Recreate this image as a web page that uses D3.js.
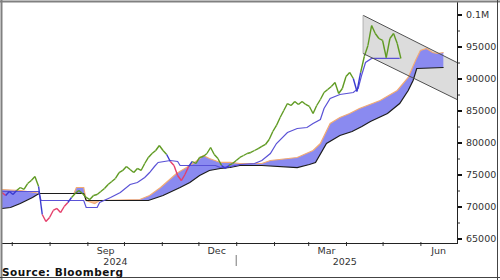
<!DOCTYPE html>
<html>
<head>
<meta charset="utf-8">
<title>Ichimoku chart</title>
<script src="https://cdn.jsdelivr.net/npm/d3@7"></script>
<style>
  body { margin: 0; background: #fff; }
  svg { display: block; }
  text { font-family: "DejaVu Sans", Verdana, sans-serif; }
</style>
</head>
<body>
<script>
// closing prices, one every 3 days from priceStart
var priceStart = "2024-06-23";
var priceStepDays = 3;
var priceClose = [
  72190, 71720, 72340, 71880, 72500, 72970, 72660, 73590, 74060, 74690,
  73130, 68750, 67660, 68280, 69380, 69690, 69060, 70000, 70630, 71410,
  72030, 72500, 72030, 71410, 71090, 71720, 71880, 72340, 72810, 73440,
  73910, 74380, 75310, 75630, 76250, 75780, 75310, 75940, 75630, 76720,
  77660, 78280, 78750, 79530, 78750, 78130, 77030, 76410, 74840, 74060,
  75000, 76250, 77030, 76720, 77660, 77810, 78280, 79220, 78130, 77500,
  76410, 75940, 76410, 76720, 77190, 77660, 77970, 78280, 78440, 78750,
  79060, 79380, 79690, 80470, 81720, 82660, 83910, 85000, 86090, 85780,
  86410, 85940, 86410, 85940, 85630, 84530, 85780, 86720, 87810, 88280,
  88750, 89380, 87660, 88440, 90310, 90940, 90000, 87970, 90940, 93440,
  95160, 98280, 97030, 96250, 95940, 93280, 96250, 97030, 95470, 93130
];

// conversion line
var baseDates = ["2024-06-23","2024-07-23","2024-07-25","2024-08-29","2024-08-31","2024-09-09","2024-09-11","2024-09-20",
  "2024-09-28","2024-10-06","2024-10-12","2024-10-18","2024-10-22","2024-10-26","2024-10-29","2024-11-08","2024-11-14",
  "2024-11-16","2024-12-15","2024-12-19","2024-12-27","2025-01-04","2025-01-16","2025-01-22","2025-01-29","2025-02-03",
  "2025-02-12","2025-02-20","2025-02-28","2025-03-05","2025-03-11","2025-03-14","2025-03-19","2025-03-27","2025-04-07",
  "2025-04-11","2025-04-14","2025-04-17","2025-04-22","2025-05-15"];
var baseValues = [72340, 72340, 70940, 70940, 69840, 69840, 70630, 71410,
  72190, 73440, 73750, 74530, 75310, 76250, 76880, 77190, 77030,
  76410, 76410, 76090, 76250, 76560, 76720, 77190, 78280, 79840,
  81560, 82190, 82340, 82970, 83590, 85310, 86880, 87500, 87810,
  88440, 90630, 92500, 93130, 93130];

// leading span A (orange edge)
var spanADates = ["2024-06-23","2024-07-08","2024-07-20","2024-07-24","2024-08-21","2024-08-23","2024-08-29","2024-08-31",
  "2024-09-07","2024-09-11","2024-10-14","2024-10-18","2024-10-22","2024-10-31","2024-11-13","2024-11-24","2024-11-30",
  "2024-12-05","2024-12-10","2024-12-19","2024-12-27","2025-01-04","2025-01-22","2025-01-29","2025-02-20","2025-03-05",
  "2025-03-11","2025-03-19","2025-03-27","2025-04-04","2025-04-12","2025-04-29","2025-05-13","2025-05-22","2025-05-28",
  "2025-06-01","2025-06-06","2025-06-11","2025-06-15","2025-06-20"];
var spanAValues = [72660, 72500, 72190, 72030, 72030, 72970, 72970, 70940,
  70470, 70940, 71090, 71410, 71720, 72970, 75160, 76410, 77190,
  77970, 77500, 76880, 76880, 76720, 76720, 77190, 77660, 78750,
  79840, 82970, 83910, 84530, 85310, 86560, 88130, 90160, 92810,
  94380, 94690, 94060, 93910, 94060];

// leading span B (black edge)
var spanBDates = ["2024-06-23","2024-06-30","2024-07-08","2024-07-13","2024-07-18","2024-07-22","2024-07-24","2024-08-29",
  "2024-08-31","2024-10-21","2024-11-02","2024-11-16","2024-11-24","2024-12-02","2024-12-10","2024-12-19","2024-12-27",
  "2025-01-04","2025-01-22","2025-02-20","2025-03-02","2025-03-07","2025-03-16","2025-03-27","2025-04-06","2025-04-14",
  "2025-04-21","2025-05-05","2025-05-15","2025-05-22","2025-05-26","2025-05-29","2025-06-20"];
var spanBValues = [69690, 69840, 70470, 70940, 71410, 71880, 72030, 72030,
  70940, 70940, 71720, 72970, 73750, 74840, 75630, 75940, 76090,
  76410, 76410, 76090, 76560, 76880, 79840, 81090, 81720, 82500,
  83280, 84530, 86090, 88130, 89690, 91560, 91720];

// falling channel
var channelDates = ["2025-04-15", "2025-07-01"];
var channelUpper = [99880, 92500];
var channelLower = [93910, 86720];

var yMajorTicks = [65000, 70000, 75000, 80000, 85000, 90000, 95000, 100000];
var yTickLabels = ["65000", "70000", "75000", "80000", "85000", "90000", "95000", "0.1M"];
var yMinorTicks = [67500, 72500, 77500, 82500, 87500, 92500, 97500];
var monthLabels = ["Sep", "Dec", "Mar", "Jun"];
var monthLabelDates = ["2024-09-16", "2024-12-16", "2025-03-16", "2025-06-16"];
var yearLabels = ["2024", "2025"];
var yearLabelDates = ["2024-09-24", "2025-03-31"];
var yearBreak = "2025-01-01";

var parse = d3.timeParse("%Y-%m-%d");
var width = 500, height = 280;
var plot = { left: 2, top: 2, right: 457, bottom: 243 };

var svg = d3.select("body").append("svg")
  .attr("width", width)
  .attr("height", height);

var x = d3.scaleTime()
  .domain([parse("2024-06-23"), parse("2025-07-01")])
  .range([plot.left, plot.right]);
var y = d3.scaleLinear()
  .domain([65000, 100000])
  .range([238.5, 14.5]);

function series(dates, values) {
  return dates.map(function(d, i) { return { date: parse(d), v: values[i] }; });
}

var price = priceClose.map(function(v, i) {
  return { date: d3.timeDay.offset(parse(priceStart), priceStepDays * i), v: v };
});
var base = series(baseDates, baseValues);
var spanA = series(spanADates, spanAValues);
var spanB = series(spanBDates, spanBValues);
var channel = channelDates.map(function(d, i) {
  return { date: parse(d), hi: channelUpper[i], lo: channelLower[i] };
});

var defs = svg.append("defs");
defs.append("clipPath").attr("id", "plotClip").append("rect")
  .attr("x", plot.left).attr("y", plot.top)
  .attr("width", plot.right - plot.left).attr("height", plot.bottom - plot.top);

var belowArea = d3.area().x(function(d) { return x(d.date); })
  .y0(plot.bottom).y1(function(d) { return y(d.v); });
var aboveArea = d3.area().x(function(d) { return x(d.date); })
  .y0(plot.top).y1(function(d) { return y(d.v); });
var line = d3.line().x(function(d) { return x(d.date); }).y(function(d) { return y(d.v); });

defs.append("clipPath").attr("id", "belowA").append("path").attr("d", belowArea(spanA));
defs.append("clipPath").attr("id", "belowB").append("path").attr("d", belowArea(spanB));

var chart = svg.append("g").attr("clip-path", "url(#plotClip)");

// channel fill
chart.append("path")
  .datum(channel)
  .attr("d", d3.area()
    .x(function(d) { return x(d.date); })
    .y0(function(d) { return y(d.lo); })
    .y1(function(d) { return y(d.hi); }))
  .attr("fill", "#dcdcdc");

// cloud: blue where A is above B, orange where twisted
chart.append("path").attr("d", aboveArea(spanB))
  .attr("fill", "#8a8af0").attr("clip-path", "url(#belowA)");
chart.append("path").attr("d", aboveArea(spanA))
  .attr("fill", "#f6c49a").attr("clip-path", "url(#belowB)");

chart.append("path").datum(spanA).attr("d", line)
  .attr("fill", "none").attr("stroke", "#f2ab74").attr("stroke-width", 1.2);
chart.append("path").datum(spanB).attr("d", line)
  .attr("fill", "none").attr("stroke", "#1c1c1c").attr("stroke-width", 1.2);

// conversion line
chart.append("path").datum(base).attr("d", line)
  .attr("fill", "none").attr("stroke", "#5a52d6").attr("stroke-width", 1.2);

// price, coloured against the conversion line
var bisect = d3.bisector(function(d) { return d.date; }).left;
function baseAt(date) {
  var i = bisect(base, date);
  if (i <= 0) return base[0].v;
  if (i >= base.length) return base[base.length - 1].v;
  var a = base[i - 1], b = base[i];
  return a.v + (date - a.date) / (b.date - a.date) * (b.v - a.v);
}
var segs = d3.pairs(price).map(function(p) {
  var up0 = p[0].v >= baseAt(p[0].date), up1 = p[1].v >= baseAt(p[1].date);
  return { a: p[0], b: p[1], color: up0 && up1 ? "#5f9a22" : (!up0 && !up1 ? "#e53f6b" : "#3a3ad0") };
});
chart.selectAll(".seg")
  .data(segs)
  .enter()
  .append("line")
  .attr("class", "seg")
  .attr("x1", function(d) { return x(d.a.date); })
  .attr("y1", function(d) { return y(d.a.v); })
  .attr("x2", function(d) { return x(d.b.date); })
  .attr("y2", function(d) { return y(d.b.v); })
  .attr("stroke", function(d) { return d.color; })
  .attr("stroke-width", 1.4);

// channel borders
["hi", "lo"].forEach(function(k) {
  chart.append("path")
    .datum(channel)
    .attr("d", d3.line().x(function(d) { return x(d.date); }).y(function(d) { return y(d[k]); }))
    .attr("fill", "none").attr("stroke", "#505050").attr("stroke-width", 1);
});
chart.append("line")
  .attr("x1", x(channel[0].date)).attr("x2", x(channel[0].date))
  .attr("y1", y(channel[0].hi)).attr("y2", y(channel[0].lo))
  .attr("stroke", "#b0b0b0");

// y axis on the right
var yAxis = svg.append("g")
  .attr("transform", "translate(" + plot.right + ",0)")
  .call(d3.axisRight(y).tickValues(yMajorTicks)
    .tickFormat(function(d, i) { return yTickLabels[i]; })
    .tickSize(5).tickPadding(4).tickSizeOuter(0));
yAxis.select(".domain").remove();
yAxis.selectAll(".tick line").attr("stroke", "#111").attr("stroke-width", 2);
yAxis.selectAll(".tick text")
  .attr("fill", "#333")
  .style("font-size", "9.5px")
  .style("font-family", "DejaVu Sans, sans-serif");

var yMinor = svg.append("g")
  .attr("transform", "translate(" + plot.right + ",0)")
  .call(d3.axisRight(y).tickValues(yMinorTicks).tickFormat("").tickSize(3).tickSizeOuter(0));
yMinor.select(".domain").remove();
yMinor.selectAll(".tick line").attr("stroke", "#333");

// x axis
var xAxis = svg.append("g")
  .attr("transform", "translate(0," + plot.bottom + ")")
  .call(d3.axisBottom(x)
    .tickValues(d3.timeMonth.range(parse("2024-07-01"), parse("2025-07-01")))
    .tickFormat("").tickSize(3).tickSizeOuter(0));
xAxis.select(".domain").remove();
xAxis.selectAll(".tick line").attr("stroke", "#333").attr("y1", -1);

svg.selectAll(".month")
  .data(monthLabels)
  .enter()
  .append("text")
  .attr("class", "month")
  .attr("x", function(d, i) { return x(parse(monthLabelDates[i])); })
  .attr("y", 254)
  .attr("text-anchor", "middle")
  .attr("fill", "#333")
  .style("font-size", "9.5px")
  .text(function(d) { return d; });

svg.selectAll(".year")
  .data(yearLabels)
  .enter()
  .append("text")
  .attr("class", "year")
  .attr("x", function(d, i) { return x(parse(yearLabelDates[i])); })
  .attr("y", 265)
  .attr("text-anchor", "middle")
  .attr("fill", "#333")
  .style("font-size", "9.5px")
  .text(function(d) { return d; });

svg.append("line")
  .attr("x1", x(parse(yearBreak))).attr("x2", x(parse(yearBreak)))
  .attr("y1", 255).attr("y2", 266)
  .attr("stroke", "#777");

// plot borders
svg.append("line").attr("x1", plot.left).attr("x2", plot.right)
  .attr("y1", plot.bottom + 0.5).attr("y2", plot.bottom + 0.5).attr("stroke", "#222");
svg.append("line").attr("x1", plot.right + 0.5).attr("x2", plot.right + 0.5)
  .attr("y1", plot.top).attr("y2", plot.bottom + 1).attr("stroke", "#222");

// outer frame
svg.append("line").attr("x1", 0).attr("x2", width).attr("y1", 1.5).attr("y2", 1.5)
  .attr("stroke", "#808080").attr("stroke-width", 2);
svg.append("line").attr("x1", 1.5).attr("x2", 1.5).attr("y1", 0).attr("y2", height)
  .attr("stroke", "#808080").attr("stroke-width", 2);
svg.append("line").attr("x1", 0).attr("x2", width).attr("y1", 277.5).attr("y2", 277.5)
  .attr("stroke", "#444");
svg.append("line").attr("x1", 497.5).attr("x2", 497.5).attr("y1", 0).attr("y2", height)
  .attr("stroke", "#444");

svg.append("text")
  .attr("x", 2)
  .attr("y", 276)
  .attr("textLength", 121)
  .attr("lengthAdjust", "spacing")
  .attr("fill", "#111")
  .style("font-size", "10.5px")
  .style("font-weight", "bold")
  .text("Source: Bloomberg");
</script>
</body>
</html>
